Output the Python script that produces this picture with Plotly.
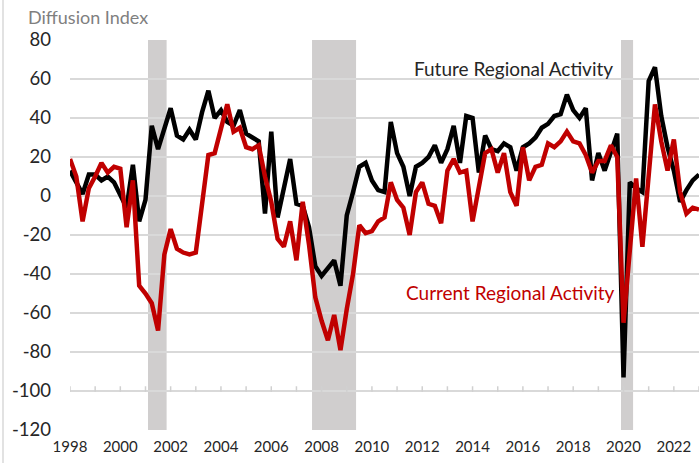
import plotly.graph_objects as go
import pandas as pd

# Quarterly diffusion indexes, 1998Q1 onward
future_regional = [13, 7, 1, 11, 11, 8, 10, 7, 0, -6,
                   16, -13, -2, 36, 24, 34, 45, 31, 29, 34,
                   29, 43, 54, 40, 44, 38, 36, 44, 32, 30,
                   28, -9, 33, -11, 4, 19, -4, -5, -16, -36,
                   -41, -37, -33, -46, -10, 2, 15, 17, 8, 3,
                   2, 38, 22, 15, 0, 15, 17, 20, 26, 17,
                   24, 36, 17, 41, 40, 12, 31, 24, 23, 27,
                   25, 13, 25, 27, 30, 35, 37, 41, 42, 52,
                   44, 40, 45, 8, 22, 13, 23, 32, -93, 7,
                   4, 2, 59, 66, 41, 25, 13, -3, 3, 8, 11]
current_regional = [19, 10, -13, 4, 10, 17, 12, 15, 14, -16,
                    8, -46, -50, -55, -69, -30, -17, -27, -29, -30,
                    -29, -3, 21, 22, 35, 47, 33, 35, 25, 24,
                    26, 10, -3, -22, -26, -13, -33, -3, -25, -52,
                    -64, -74, -61, -79, -58, -40, -15, -19, -18, -13,
                    -11, 7, -2, -6, -20, 2, 7, -4, -5, -14,
                    13, 19, 12, 13, -13, 6, 22, 24, 12, 22,
                    2, -5, 25, 8, 15, 16, 27, 25, 28, 33,
                    28, 27, 21, 12, 18, 18, 26, 20, -65, -28,
                    9, -26, 12, 47, 28, 13, 29, 2, -9, -6, -7]

quarters = pd.period_range("1998Q1", periods=len(future_regional), freq="Q")
x_dates = [p.year + (p.quarter - 1) / 4 for p in quarters]

recessions = [(2001.10, 2001.84), (2007.62, 2009.37), (2019.90, 2020.38)]
x_tick_years = list(range(1998, 2023, 2))
x_tick_labels = [str(y) for y in x_tick_years]
minor_tick_years = list(range(1998, 2024))
y_tick_vals = list(range(-120, 81, 20))
y_tick_labels = [str(v) for v in y_tick_vals]
AXIS_CROSS = -100

X_RANGE = [1998, 2023]
FONT = "Lato"
GRID = "#d9d9d9"

fig = go.Figure()
# year tick marks on the horizontal axis that crosses at -100
fig.add_trace(go.Scatter(x=minor_tick_years, y=[AXIS_CROSS + 1.0] * len(minor_tick_years),
                         mode="markers", showlegend=False, hoverinfo="skip",
                         marker=dict(symbol="line-ns", size=4,
                                     line=dict(color="#d0d0d0", width=1.5))))
fig.add_trace(go.Scatter(x=x_dates, y=future_regional, mode="lines",
                         line=dict(color="#000000", width=4.5),
                         name="Future Regional Activity", hoverinfo="skip"))
fig.add_trace(go.Scatter(x=x_dates, y=current_regional, mode="lines",
                         line=dict(color="#c00000", width=4.5),
                         name="Current Regional Activity", hoverinfo="skip"))

shapes = []
for a, b in recessions:
    shapes.append(dict(type="rect", xref="x", yref="paper", x0=a, x1=b, y0=0, y1=1,
                       fillcolor="#d0cece", line=dict(width=0), layer="between"))
shapes.append(dict(type="line", xref="paper", yref="y", x0=0, x1=1, y0=0, y1=0,
                   line=dict(color="#000000", width=1.3), layer="between"))
shapes.append(dict(type="line", xref="paper", yref="paper", x0=-67 / 629, x1=-67 / 629,
                   y0=-33 / 390, y1=463 / 390 - 33 / 390,
                   line=dict(color="#d9d9d9", width=1.5)))

fig.update_layout(
    width=699, height=463,
    margin=dict(l=70, r=0, t=40, b=33),
    paper_bgcolor="white", plot_bgcolor="white",
    showlegend=False,
    font=dict(family=FONT, color="#262626"),
    shapes=shapes,
    xaxis=dict(range=X_RANGE, tickmode="array", tickvals=x_tick_years, ticktext=x_tick_labels,
               showgrid=False, zeroline=False, showline=False, ticks="",
               tickfont=dict(size=15, family=FONT, color="#262626"), ticklabelstandoff=6),
    yaxis=dict(range=[-120, 80], tickmode="array", tickvals=y_tick_vals, ticktext=y_tick_labels,
               showgrid=True, gridcolor=GRID, gridwidth=2, zeroline=False, showline=False,
               ticks="", tickfont=dict(size=18.5, family=FONT, color="#262626"),
               ticklabelstandoff=18),
    annotations=[
        dict(text="Diffusion Index", xref="paper", yref="paper",
             x=-44 / 629, y=(430 - 17) / 390, xanchor="left", yanchor="middle",
             showarrow=False, font=dict(size=18, family=FONT, color="#7f7f7f")),
        dict(text="Future Regional Activity", xref="x", yref="y",
             x=2015.63, y=65.6, xanchor="center", yanchor="middle",
             showarrow=False, font=dict(size=19, family=FONT, color="#262626")),
        dict(text="Current Regional Activity", xref="x", yref="y",
             x=2015.51, y=-49.7, xanchor="center", yanchor="middle",
             showarrow=False, font=dict(size=19, family=FONT, color="#c00000")),
    ],
)

fig.write_html("out.html")
